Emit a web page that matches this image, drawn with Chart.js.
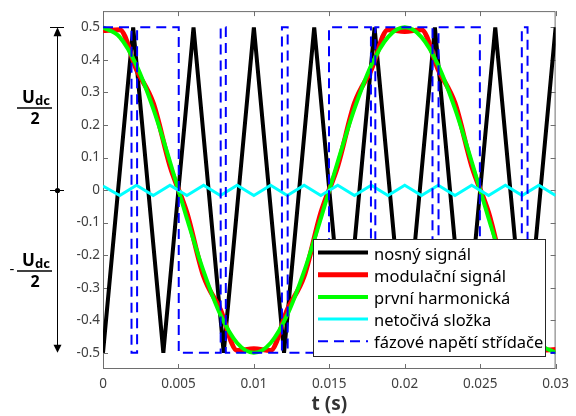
<!DOCTYPE html>
<html>
<head>
<meta charset="utf-8">
<script src="https://cdn.jsdelivr.net/npm/chart.js@4.4.1/dist/chart.umd.min.js"></script>
<style>
html, body { margin: 0; padding: 0; background: #fff; }
#wrap { position: relative; width: 576px; height: 416px; }
</style>
</head>
<body>
<div id="wrap"><canvas id="c" width="576" height="416"></canvas></div>
<script>
// nosny signal (triangle carrier)
const carrierT = [0, 0.002, 0.004, 0.006, 0.008, 0.010, 0.012, 0.014, 0.016, 0.018, 0.020, 0.022, 0.024, 0.026, 0.028, 0.030];
const carrierV = [-0.5, 0.5, -0.5, 0.5, -0.5, 0.5, -0.5, 0.5, -0.5, 0.5, -0.5, 0.5, -0.5, 0.5, -0.5, 0.5];

// times where the red / green / cyan curves were read
const sampleT = [0, 0.00111, 0.00222, 0.00333, 0.00444, 0.00556, 0.00667, 0.00778, 0.00889, 0.01,
  0.01111, 0.01222, 0.01333, 0.01444, 0.01556, 0.01667, 0.01778, 0.01889, 0.02,
  0.02111, 0.02222, 0.02333, 0.02444, 0.02556, 0.02667, 0.02778, 0.02889, 0.03];
const modV = [0.49, 0.493, 0.37, 0.267, 0.074, -0.07, -0.265, -0.367, -0.493, -0.488,
  -0.493, -0.367, -0.265, -0.07, 0.074, 0.267, 0.37, 0.493, 0.487,
  0.493, 0.37, 0.267, 0.074, -0.07, -0.265, -0.367, -0.493, -0.49];
const firstV = [0.5, 0.47, 0.383, 0.25, 0.087, -0.087, -0.25, -0.383, -0.47, -0.5,
  -0.47, -0.383, -0.25, -0.087, 0.087, 0.25, 0.383, 0.47, 0.5,
  0.47, 0.383, 0.25, 0.087, -0.087, -0.25, -0.383, -0.47, -0.5];
const zeroV = [0.012, -0.017, 0.015, -0.017, 0.015, -0.017, 0.015, -0.017, 0.015, -0.017,
  0.015, -0.017, 0.015, -0.017, 0.015, -0.017, 0.015, -0.017, 0.015,
  -0.017, 0.015, -0.017, 0.015, -0.017, 0.015, -0.017, 0.015, -0.017];

// fazove napeti (switch times, level from that time on)
const phaseT = [0, 0.00189, 0.00226, 0.00502, 0.0078, 0.00814, 0.01186, 0.01224, 0.01498,
  0.01776, 0.01805, 0.02184, 0.02224, 0.02498, 0.02776, 0.02814, 0.03];
const phaseV = [0.5, -0.5, 0.5, -0.5, 0.5, -0.5, 0.5, -0.5, 0.5, -0.5, 0.5, -0.5, 0.5, -0.5, 0.5, -0.5, -0.5];

const labels = ["nosný signál", "modulační signál", "první harmonická", "netočivá složka", "fázové napětí střídače"];
const xTicks = [0, 0.005, 0.01, 0.015, 0.02, 0.025, 0.03];
const yTicks = [-0.5, -0.4, -0.3, -0.2, -0.1, 0, 0.1, 0.2, 0.3, 0.4, 0.5];

const toPts = (t, v) => t.map((x, i) => ({ x: x, y: v[i] }));

function line(ctx, x1, y1, x2, y2) {
    ctx.beginPath();
    ctx.moveTo(x1, y1);
    ctx.lineTo(x2, y2);
    ctx.stroke();
}

const boxPlugin = {
    id: "box",
    beforeDatasetsDraw(chart) {
        const ctx = chart.ctx, a = chart.chartArea;
        const xs = chart.scales.x, ys = chart.scales.y;
        ctx.save();
        ctx.strokeStyle = "#6e6e6e";
        ctx.lineWidth = 1;
        ctx.strokeRect(a.left + 0.5, a.top + 0.5, a.right - a.left - 1, a.bottom - a.top - 1);
        xTicks.forEach(v => {
            const px = Math.round(xs.getPixelForValue(v)) + 0.5;
            line(ctx, px, a.bottom, px, a.bottom - 5);
            line(ctx, px, a.top, px, a.top + 5);
        });
        yTicks.forEach(v => {
            const py = Math.round(ys.getPixelForValue(v)) + 0.5;
            line(ctx, a.left, py, a.left + 5, py);
            line(ctx, a.right, py, a.right - 5, py);
        });
        ctx.restore();
    },
    afterDraw(chart) {
        const ctx = chart.ctx;
        const ys = chart.scales.y;
        const yTop = ys.getPixelForValue(0.5), yMid = ys.getPixelForValue(0), yBot = ys.getPixelForValue(-0.5);
        ctx.save();

        // Udc/2 arrow on the left
        const ax = 57.5;
        ctx.strokeStyle = "#000";
        ctx.fillStyle = "#000";
        ctx.lineWidth = 1;
        line(ctx, ax, yTop + 2, ax, yBot - 2);
        line(ctx, 50, Math.round(yTop) + 0.5, 64, Math.round(yTop) + 0.5);
        line(ctx, 50, Math.round(yMid) + 0.5, 64, Math.round(yMid) + 0.5);
        ctx.beginPath();
        ctx.moveTo(ax, yTop);
        ctx.lineTo(ax - 4, yTop + 9);
        ctx.lineTo(ax + 4, yTop + 9);
        ctx.closePath();
        ctx.fill();
        ctx.beginPath();
        ctx.moveTo(ax, yBot);
        ctx.lineTo(ax - 4, yBot - 8);
        ctx.lineTo(ax + 4, yBot - 8);
        ctx.closePath();
        ctx.fill();
        ctx.beginPath();
        ctx.arc(ax, Math.round(yMid) + 0.5, 2.6, 0, Math.PI * 2);
        ctx.fill();

        // fractions
        function frac(yLine) {
            ctx.font = "bold 17px 'Noto Sans'";
            const wU = ctx.measureText("U").width;
            ctx.font = "bold 13px 'Noto Sans'";
            const wS = ctx.measureText("dc").width;
            const x0 = 36 - (wU + wS) / 2;
            ctx.textAlign = "left";
            ctx.textBaseline = "alphabetic";
            ctx.font = "bold 17px 'Noto Sans'";
            ctx.fillText("U", x0, yLine - 5);
            ctx.font = "bold 13px 'Noto Sans'";
            ctx.fillText("dc", x0 + wU, yLine - 3);
            ctx.lineWidth = 1.5;
            line(ctx, 17, yLine, 52, yLine);
            ctx.font = "bold 16px 'Noto Sans'";
            ctx.textAlign = "center";
            ctx.fillText("2", 35, yLine + 16);
        }
        frac(108);
        frac(271);
        ctx.font = "15px 'Noto Sans'";
        ctx.textAlign = "center";
        ctx.textBaseline = "middle";
        ctx.fillText("-", 12, 270);

        // legend box
        const lx = 313, ly = 239, lw = 232, lh = 117;
        ctx.fillStyle = "#fff";
        ctx.fillRect(lx, ly, lw, lh);
        ctx.strokeStyle = "#262626";
        ctx.lineWidth = 1;
        ctx.strokeRect(lx + 0.5, ly + 0.5, lw, lh);
        chart.data.datasets.forEach((ds, i) => {
            const base = 259.5 + i * 22.2;
            ctx.strokeStyle = ds.borderColor;
            ctx.lineWidth = ds.borderWidth;
            ctx.setLineDash(ds.borderDash || []);
            line(ctx, 318, base - 7, 368, base - 7);
            ctx.setLineDash([]);
            ctx.fillStyle = "#000";
            ctx.font = "16.5px 'Noto Sans'";
            ctx.textAlign = "left";
            ctx.textBaseline = "alphabetic";
            ctx.fillText(ds.label, 374, base);
        });
        ctx.restore();
    }
};

const tickFont = { family: "Noto Sans", size: 13.5 };

new Chart(document.getElementById("c"), {
    type: "line",
    data: {
        datasets: [
            { label: labels[0], data: toPts(carrierT, carrierV), borderColor: "#000000", borderWidth: 4, order: 5, tension: 0 },
            { label: labels[1], data: toPts(sampleT, modV), borderColor: "#ff0000", borderWidth: 5, order: 4, cubicInterpolationMode: "monotone" },
            { label: labels[2], data: toPts(sampleT, firstV), borderColor: "#00ff00", borderWidth: 4, order: 3, cubicInterpolationMode: "monotone" },
            { label: labels[3], data: toPts(sampleT, zeroV), borderColor: "#00ffff", borderWidth: 3, order: 2, tension: 0 },
            { label: labels[4], data: toPts(phaseT, phaseV), borderColor: "#0000ff", borderWidth: 2, order: 1, stepped: true, borderDash: [10, 6] }
        ]
    },
    options: {
        responsive: false,
        animation: false,
        events: [],
        layout: { padding: { top: 10, right: 17, left: 0, bottom: 0 } },
        elements: { point: { radius: 0 }, line: { fill: false } },
        plugins: { legend: { display: false }, tooltip: { enabled: false } },
        scales: {
            x: {
                type: "linear",
                min: 0,
                max: 0.03,
                afterBuildTicks: s => { s.ticks = xTicks.map(v => ({ value: v })); },
                afterFit: s => { s.height = 47; },
                grid: { display: false, drawTicks: false },
                border: { display: false },
                ticks: {
                    autoSkip: false, maxRotation: 0, padding: 7,
                    font: tickFont, color: "#404040",
                    callback: v => String(+v.toFixed(3))
                },
                title: {
                    display: true, text: "t (s)", color: "#333",
                    font: { family: "Noto Sans", size: 19, weight: "bold" },
                    padding: { top: 0, bottom: 0 }
                }
            },
            y: {
                type: "linear",
                min: -0.55,
                max: 0.55,
                afterBuildTicks: s => { s.ticks = yTicks.map(v => ({ value: v })); },
                afterFit: s => { s.width = 103; },
                grid: { display: false, drawTicks: false },
                border: { display: false },
                ticks: {
                    autoSkip: false, padding: 3,
                    font: tickFont, color: "#404040",
                    callback: v => String(+v.toFixed(1))
                }
            }
        }
    },
    plugins: [boxPlugin]
});
</script>
</body>
</html>
